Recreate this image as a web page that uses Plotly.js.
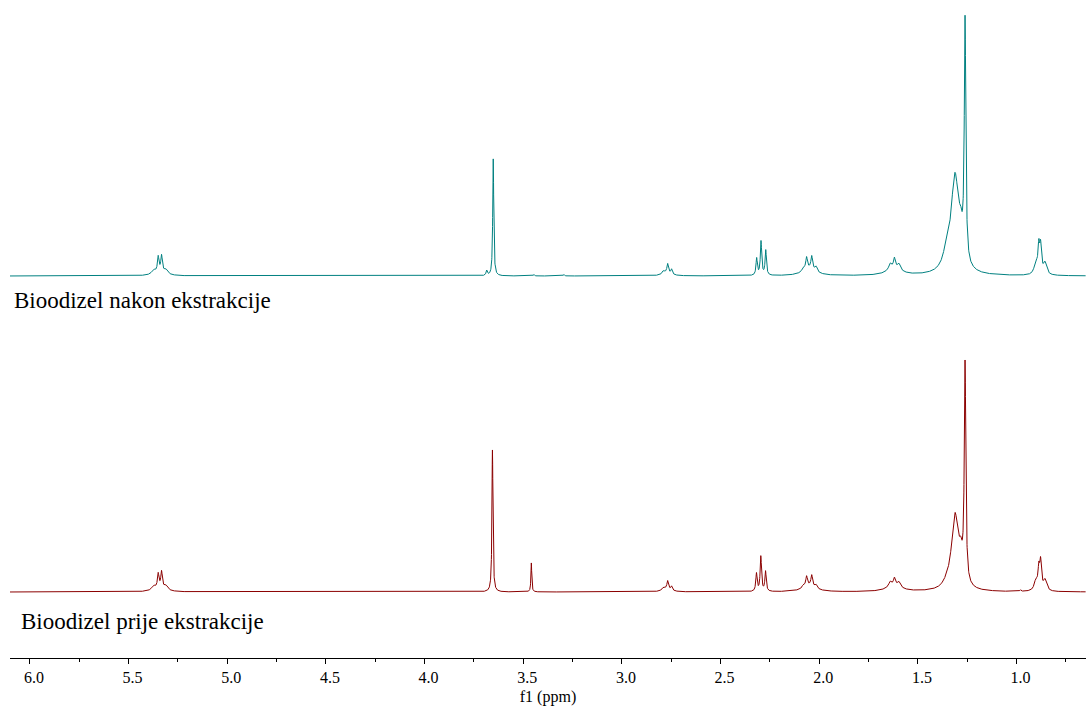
<!DOCTYPE html>
<html><head><meta charset="utf-8">
<script src="https://cdn.plot.ly/plotly-3.0.1.min.js"></script>
<style>html,body{margin:0;padding:0;background:#fff}#chart{width:1086px;height:706px}</style>
</head><body><div id="chart"></div>
<script>
// Peak list: centre (ppm), height (intensity units), FWHM (ppm)
// Top spectrum: Bioodizel nakon ekstrakcije
const topPpm    = [5.374, 5.350, 5.333, 5.311, 5.341, 3.685, 3.652, 3.446, 3.294, 2.790, 2.768, 2.748, 2.771, 2.317, 2.295, 2.271, 2.081, 2.064, 2.038, 2.016, 2.050, 1.641, 1.619, 1.596, 1.620, 1.355, 1.312, 1.283, 1.261, 0.902, 0.887, 0.878, 0.856];
const topHeight = [4, 15, 16, 4, 4, 5, 117, 1.5, 1.5, 3, 9, 5, 3, 17, 34, 25, 4, 12, 13, 5, 7, 5.5, 9, 5.5, 8, 14, 97, 20, 239, 12, 26, 26, 12];
const topWidth  = [0.02, 0.009, 0.009, 0.02, 0.07, 0.008, 0.006, 0.006, 0.006, 0.015, 0.009, 0.009, 0.05, 0.008, 0.008, 0.008, 0.0125, 0.01, 0.01, 0.0125, 0.08, 0.015, 0.01, 0.015, 0.08, 0.04, 0.048, 0.02, 0.0091, 0.02, 0.01, 0.01, 0.02];

// Bottom spectrum: Bioodizel prije ekstrakcije
const botPpm    = [5.374, 5.350, 5.333, 5.311, 5.341, 3.656, 3.459, 2.790, 2.768, 2.748, 2.771, 2.318, 2.296, 2.272, 2.081, 2.064, 2.038, 2.016, 2.050, 1.641, 1.619, 1.596, 1.620, 1.355, 1.312, 1.283, 1.261, 0.980, 0.902, 0.887, 0.878, 0.856];
const botHeight = [4, 14, 16, 4, 4, 142, 29, 2.5, 8, 4, 3, 18, 35, 20, 3, 10, 11, 3.5, 6, 4.5, 6.5, 4.5, 7, 3, 75, 20, 217, 1.5, 10, 20, 27, 11];
const botWidth  = [0.02, 0.009, 0.009, 0.02, 0.07, 0.006, 0.005, 0.015, 0.009, 0.009, 0.05, 0.008, 0.008, 0.008, 0.0125, 0.01, 0.01, 0.0125, 0.08, 0.015, 0.01, 0.015, 0.08, 0.04, 0.043, 0.02, 0.0091, 0.006, 0.02, 0.01, 0.01, 0.02];

const labelTop = 'Bioodizel nakon ekstrakcije';
const labelBot = 'Bioodizel prije ekstrakcije';
const xTitle = 'f1 (ppm)';

// sampling grid for the Lorentzian line shapes
const xs = [];
for (let i = 0; i <= 10920; i++) xs.push(6.11 - i * 0.0005);

function spectrum(ppm, h, w) {
  return xs.map(x => {
    let s = 0;
    for (let i = 0; i < ppm.length; i++) {
      const d = 2 * (x - ppm[i]) / w[i];
      s += h[i] / (1 + d * d);
    }
    return s;
  });
}

const serif = "'Liberation Serif', 'Times New Roman', Times, serif";

const traces = [
  {x: xs, y: spectrum(topPpm, topHeight, topWidth), type: 'scatter', mode: 'lines',
   line: {color: '#008080', width: 1}, xaxis: 'x', yaxis: 'y2', hoverinfo: 'skip'},
  {x: xs, y: spectrum(botPpm, botHeight, botWidth), type: 'scatter', mode: 'lines',
   line: {color: '#8b0000', width: 1}, xaxis: 'x', yaxis: 'y', hoverinfo: 'skip'}
];

const layout = {
  width: 1086, height: 706,
  margin: {l: 10, r: 0, t: 0, b: 48},
  paper_bgcolor: '#fff', plot_bgcolor: '#fff',
  showlegend: false,
  font: {family: serif, color: '#000'},
  xaxis: {
    range: [6.101, 0.648], autorange: false,
    showline: true, linecolor: '#000', linewidth: 1,
    ticks: 'outside', ticklen: 5, tickwidth: 1, tickcolor: '#000',
    tick0: 0, dtick: 0.5, tickformat: '.1f', ticklabelshift: -4,
    showgrid: false, zeroline: false,
    tickfont: {family: serif, size: 16, color: '#000'},
    minor: {dtick: 0.25, ticks: 'outside', ticklen: 3, tickwidth: 1, tickcolor: '#000', showgrid: false},
    title: {text: xTitle, font: {family: serif, size: 16, color: '#000'}, standoff: 7},
    anchor: 'y'
  },
  yaxis: {domain: [0, 0.5], range: [-66, 263], visible: false, fixedrange: true},
  yaxis2: {domain: [0.55, 1], range: [-20.1, 276], visible: false, fixedrange: true},
  annotations: [
    {text: labelTop, xref: 'paper', yref: 'paper', x: 0.002, y: 0.543, xanchor: 'left', yanchor: 'middle',
     showarrow: false, font: {family: serif, size: 23, color: '#000'}},
    {text: labelBot, xref: 'paper', yref: 'paper', x: 0.0085, y: 0.055, xanchor: 'left', yanchor: 'middle',
     showarrow: false, font: {family: serif, size: 23, color: '#000'}}
  ]
};

Plotly.newPlot('chart', traces, layout, {displayModeBar: false, staticPlot: true});
</script>
</body></html>
